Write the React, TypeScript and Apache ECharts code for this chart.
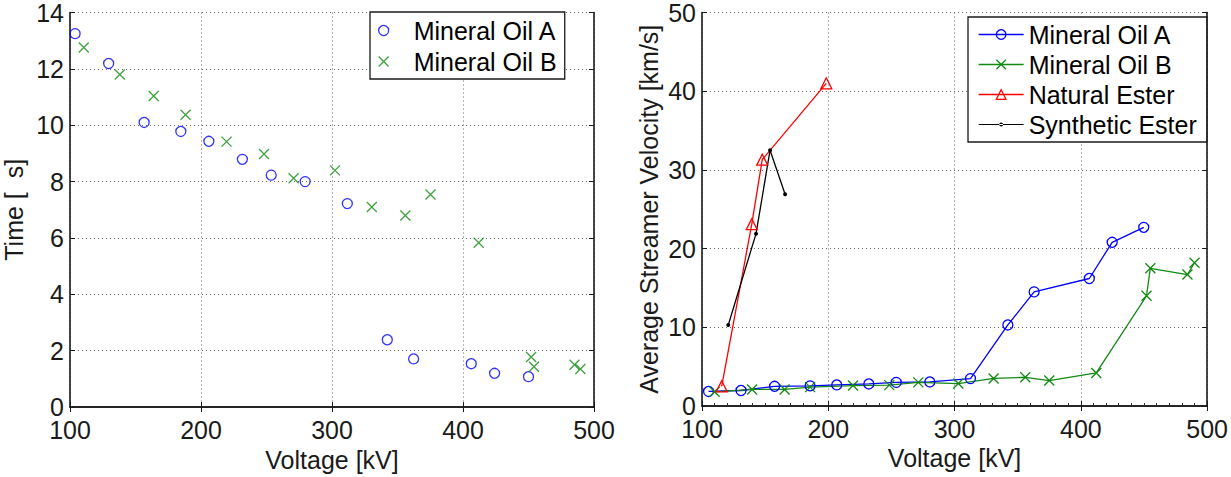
import React, { useEffect, useRef } from "react";
import * as echarts from "echarts";

// ---- Left chart: Time vs Voltage ----
const timeOilAVoltage = [103.9, 129.5, 156.6, 184.6, 206, 231.6, 253.6, 279.5, 311.7, 342.2, 362.3, 406.3, 424.1, 450];
const timeOilA = [13.25, 12.19, 10.1, 9.78, 9.43, 8.79, 8.23, 8.0, 7.22, 2.39, 1.71, 1.54, 1.2, 1.08];
const timeOilBVoltage = [110.5, 138, 163.9, 188.2, 219.5, 248.1, 270.7, 302.3, 330.4, 356, 375.2, 412, 452, 454.2, 485.1, 489.6];
const timeOilB = [12.76, 11.8, 11.04, 10.37, 9.42, 8.98, 8.12, 8.4, 7.1, 6.8, 7.54, 5.83, 1.78, 1.43, 1.5, 1.35];

// ---- Right chart: Average streamer velocity vs Voltage ----
const velOilAVoltage = [105.2, 130.9, 157.5, 185.6, 206.7, 232.1, 253.8, 280.4, 312.6, 342.2, 363, 406.7, 424.8, 449.8];
const velOilA = [1.85, 1.97, 2.5, 2.56, 2.68, 2.8, 3.0, 3.06, 3.48, 10.3, 14.5, 16.2, 20.8, 22.7];
const velOilBVoltage = [110, 139.7, 165.4, 185.6, 219.6, 248.3, 271.3, 303, 330.9, 356, 375, 412.2, 452, 455, 484.4, 490];
const velOilB = [1.8, 2.1, 2.1, 2.4, 2.6, 2.65, 3.0, 2.85, 3.5, 3.65, 3.23, 4.2, 14.0, 17.5, 16.7, 18.2];
const velNatVoltage = [115.6, 139.4, 147.7, 198.4];
const velNat = [2.5, 23.1, 31.3, 41.0];
const velSynVoltage = [120.8, 142.8, 153.9, 165.8];
const velSyn = [10.3, 21.9, 32.5, 26.9];

const seriesNames = ["Mineral Oil A", "Mineral Oil B", "Natural Ester", "Synthetic Ester"];
const leftYTitle = "Time [  s]";
const rightYTitle = "Average Streamer Velocity [km/s]";
const xTitle = "Voltage [kV]";

const BLUE = "#0000ff";
const GREEN = "#128a12";
const RED = "#ff0000";
const BLACK = "#000000";
const FONT = "'Liberation Sans', Arial, sans-serif";
const CROSS = "path://M0,0L10,10M0,10L10,0";
const SYN_ICON = "path://M0,5.5L45,5.5L45,6.5L0,6.5Z M20.5,6a2,2 0 1,0 4,0a2,2 0 1,0 -4,0Z";

const zip = (xs: number[], ys: number[]) => xs.map((x, i) => [x, ys[i]]);

const axisLine = { show: true, lineStyle: { color: "#1a1a1a", width: 1.6 } };
const splitLine = { show: true, lineStyle: { color: "#666", type: [1, 3] as any, width: 1 } };
const tick = { show: true, inside: true, length: 5, lineStyle: { color: "#1a1a1a", width: 1 } };
const label = { color: "#1a1a1a", fontSize: 25, fontFamily: FONT };

function mkX(grid: number, pos: "bottom" | "top", withLabels: boolean, extra: any = {}) {
  return {
    type: "value",
    gridIndex: grid,
    position: pos,
    min: 100,
    max: 500,
    interval: 100,
    axisLine,
    axisTick: tick,
    splitLine: pos === "bottom" ? splitLine : { show: false },
    axisLabel: withLabels ? { ...label, margin: 10 } : { show: false },
    ...extra,
  };
}
function mkY(grid: number, pos: "left" | "right", max: number, interval: number, withLabels: boolean, extra: any = {}) {
  return {
    type: "value",
    gridIndex: grid,
    position: pos,
    min: 0,
    max,
    interval,
    axisLine,
    axisTick: tick,
    splitLine: pos === "left" ? splitLine : { show: false },
    axisLabel: withLabels ? { ...label, margin: 6 } : { show: false },
    ...extra,
  };
}

const nameStyle = { color: "#1a1a1a", fontSize: 25, fontFamily: FONT };

export default function App() {
  const ref = useRef<HTMLDivElement>(null);
  useEffect(() => {
    if (!ref.current) return;
    const chart = echarts.init(ref.current, undefined, { renderer: "svg" });
    const option: any = {
      animation: false,
      backgroundColor: "#ffffff",
      grid: [
        { left: 69, top: 4, width: 525, height: 409 },
        { left: 702, top: 9, width: 509, height: 397 },
      ],
      xAxis: [
        mkX(0, "bottom", true, { name: xTitle, nameLocation: "middle", nameGap: 35, nameTextStyle: nameStyle }),
        mkX(0, "top", false),
        mkX(1, "bottom", true, {
          name: xTitle,
          nameLocation: "middle",
          nameGap: 33,
          nameTextStyle: nameStyle,
          minorTick: { show: true, splitNumber: 10, length: 3, lineStyle: { color: "#333", width: 1 } },
        }),
        mkX(1, "top", false),
      ],
      yAxis: [
        mkY(0, "left", 14, 2, true, { name: leftYTitle, nameLocation: "middle", nameGap: 44, nameTextStyle: nameStyle }),
        mkY(0, "right", 14, 2, false),
        mkY(1, "left", 50, 10, true, { name: rightYTitle, nameLocation: "middle", nameGap: 41, nameTextStyle: nameStyle }),
        mkY(1, "right", 50, 10, false),
      ],
      legend: [
        {
          data: [seriesNames[0], seriesNames[1]],
          orient: "vertical",
          left: 370,
          top: 12,
          itemWidth: 50,
          itemHeight: 10,
          itemGap: 6,
          padding: [6, 8, 5, 8],
          backgroundColor: "#fff",
          borderColor: "#1a1a1a",
          borderWidth: 1.3,
          selectedMode: false,
          itemStyle: { borderWidth: 1.3 },
          textStyle: { color: "#000", fontSize: 25, fontFamily: FONT, lineHeight: 25 },
        },
        {
          data: [
            { name: "R:" + seriesNames[0] },
            { name: "R:" + seriesNames[1] },
            { name: "R:" + seriesNames[2] },
            { name: "R:" + seriesNames[3], icon: SYN_ICON, itemStyle: { borderWidth: 0 } },
          ],
          formatter: (n: string) => n.replace("R:", ""),
          orient: "vertical",
          left: 968,
          top: 17,
          itemWidth: 45,
          itemHeight: 12,
          itemGap: 5,
          padding: [5, 10, 5, 10],
          backgroundColor: "#fff",
          borderColor: "#1a1a1a",
          borderWidth: 1.3,
          selectedMode: false,
          itemStyle: { borderWidth: 1.3 },
          lineStyle: { width: 1.3 },
          textStyle: { color: "#000", fontSize: 25, fontFamily: FONT, lineHeight: 25 },
        },
      ],
      series: [
        {
          name: seriesNames[0],
          type: "scatter",
          xAxisIndex: 0,
          yAxisIndex: 0,
          symbol: "circle",
          symbolSize: 10,
          itemStyle: { color: "rgba(0,0,0,0)", borderColor: BLUE, borderWidth: 1.3 },
          data: zip(timeOilAVoltage, timeOilA),
        },
        {
          name: seriesNames[1],
          type: "scatter",
          xAxisIndex: 0,
          yAxisIndex: 0,
          symbol: CROSS,
          symbolSize: 10,
          itemStyle: { color: "rgba(0,0,0,0)", borderColor: GREEN, borderWidth: 1.3 },
          data: zip(timeOilBVoltage, timeOilB),
        },
        {
          name: "R:" + seriesNames[0],
          type: "line",
          xAxisIndex: 2,
          yAxisIndex: 2,
          symbol: "circle",
          symbolSize: 10,
          showAllSymbol: true,
          lineStyle: { color: BLUE, width: 1.3 },
          itemStyle: { color: "rgba(0,0,0,0)", borderColor: BLUE, borderWidth: 1.3 },
          data: zip(velOilAVoltage, velOilA),
        },
        {
          name: "R:" + seriesNames[1],
          type: "line",
          xAxisIndex: 2,
          yAxisIndex: 2,
          symbol: CROSS,
          symbolSize: 10,
          showAllSymbol: true,
          lineStyle: { color: GREEN, width: 1.3 },
          itemStyle: { color: "rgba(0,0,0,0)", borderColor: GREEN, borderWidth: 1.3 },
          data: zip(velOilBVoltage, velOilB),
        },
        {
          name: "R:" + seriesNames[2],
          type: "line",
          xAxisIndex: 2,
          yAxisIndex: 2,
          symbol: "triangle",
          symbolSize: 11,
          showAllSymbol: true,
          lineStyle: { color: RED, width: 1.3 },
          itemStyle: { color: "rgba(0,0,0,0)", borderColor: RED, borderWidth: 1.3 },
          data: zip(velNatVoltage, velNat),
        },
        {
          name: "R:" + seriesNames[3],
          type: "line",
          xAxisIndex: 2,
          yAxisIndex: 2,
          symbol: "circle",
          symbolSize: 4,
          showAllSymbol: true,
          lineStyle: { color: BLACK, width: 1.3 },
          itemStyle: { color: BLACK },
          data: zip(velSynVoltage, velSyn),
        },
      ],
    };
    chart.setOption(option);
    return () => chart.dispose();
  }, []);
  return <div ref={ref} style={{ position: "absolute", left: 0, top: 0, width: 1231, height: 477 }} />;
}
